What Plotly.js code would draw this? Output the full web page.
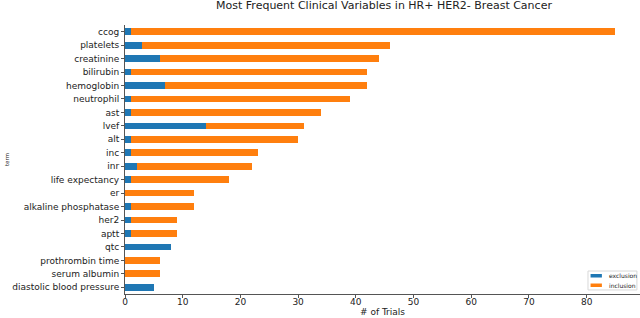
<!DOCTYPE html>
<html><head><meta charset="utf-8">
<script src="https://cdn.plot.ly/plotly-3.0.1.min.js"></script>
<style>body{margin:0;padding:0;background:#fff}#c{width:640px;height:318px}</style>
</head><body><div id="c"></div>
<script>
const terms = ["ccog","platelets","creatinine","bilirubin","hemoglobin","neutrophil","ast","lvef","alt","inc","inr","life expectancy","er","alkaline phosphatase","her2","aptt","qtc","prothrombin time","serum albumin","diastolic blood pressure"];
const exclusion = [1,3,6,1,7,1,1,14,1,1,2,1,0,1,1,1,8,0,0,5];
const inclusion = [84,43,38,41,35,38,33,17,29,22,20,17,12,11,8,8,0,6,6,0];
const xTicks = [0,10,20,30,40,50,60,70,80];
const seriesNames = ['exclusion','inclusion'];
const seriesColors = ['#1f77b4','#ff7f0e'];

const data = [
  {type:'bar', orientation:'h', name:seriesNames[0], y:terms, x:exclusion, marker:{color:seriesColors[0]}},
  {type:'bar', orientation:'h', name:seriesNames[1], y:terms, x:inclusion, marker:{color:seriesColors[1]}}
];
const ff = 'DejaVu Sans, sans-serif';
// custom compact legend (matplotlib style) in paper coordinates
const shapes = [
  {type:'rect', xref:'paper', yref:'paper', x0:0.899, x1:0.994, y0:0.015, y1:0.0855,
   line:{color:'#d8d8d8', width:1}, fillcolor:'rgba(255,255,255,0.8)', layer:'above'}
];
const annotations = [];
const rows = [[0.0613,0.0743],[0.026,0.039]];
seriesNames.forEach((n,i)=>{
  shapes.push({type:'rect', xref:'paper', yref:'paper', x0:0.904, x1:0.926, y0:rows[i][0], y1:rows[i][1],
    line:{width:0}, fillcolor:seriesColors[i], layer:'above'});
  annotations.push({xref:'paper', yref:'paper', x:0.936, y:(rows[i][0]+rows[i][1])/2, xanchor:'left', yanchor:'middle',
    text:n, showarrow:false, font:{size:6, family:ff, color:'#222'}});
});
const layout = {
  width:640, height:318,
  margin:{l:125, r:0, t:25, b:24},
  barmode:'stack', bargap:0.5,
  paper_bgcolor:'#fff', plot_bgcolor:'#fff',
  font:{size:9, family:ff, color:'#222'},
  showlegend:false,
  title:{text:'Most Frequent Clinical Variables in HR+ HER2- Breast Cancer', font:{size:11, family:ff, color:'#222'},
    x:0.6, xanchor:'center', y:1, yref:'container', yanchor:'top', pad:{t:1}},
  xaxis:{range:[0,89.25], tickvals:xTicks, ticktext:xTicks.map(String), showgrid:false, zeroline:false,
    showline:true, linecolor:'#555', linewidth:1, ticks:'outside', ticklen:3, tickcolor:'#555',
    ticklabelstandoff:-4,
    tickfont:{size:9, family:ff, color:'#222'},
    title:{text:'# of Trials', font:{size:9, family:ff, color:'#222'}, standoff:0}},
  yaxis:{type:'category', categoryorder:'array', categoryarray:terms, range:[19.5,-0.5],
    showgrid:false, zeroline:false, showline:true, linecolor:'#555', linewidth:1,
    ticks:'outside', ticklen:3, tickcolor:'#555',
    tickfont:{size:9, family:ff, color:'#222'},
    title:{text:'term', font:{size:5.5, family:ff, color:'#222'}, standoff:2}},
  shapes:shapes, annotations:annotations
};
Plotly.newPlot('c', data, layout, {staticPlot:true, displayModeBar:false});
</script></body></html>
